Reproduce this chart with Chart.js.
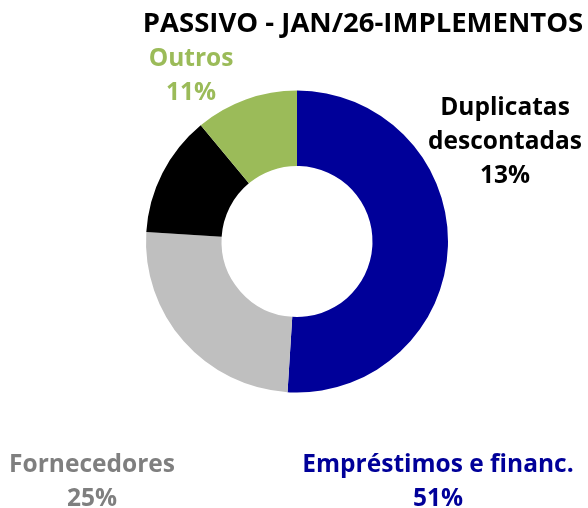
<!DOCTYPE html>
<html>
<head>
<meta charset="utf-8">
<script src="https://cdn.jsdelivr.net/npm/chart.js@4"></script>
<style>
html,body{margin:0;padding:0;background:#fff;}
#wrap{width:588px;height:508px;}
</style>
</head>
<body>
<div id="wrap"><canvas id="c" width="588" height="508"></canvas></div>
<script>
const chartTitle = "PASSIVO - JAN/26-IMPLEMENTOS";
const categories = ["Empréstimos e financ.", "Fornecedores", "Duplicatas descontadas", "Outros"];
const labelLines = [["Empréstimos e financ."], ["Fornecedores"], ["Duplicatas", "descontadas"], ["Outros"]];
const values = [51, 25, 13, 11];
const sliceColors = ["#000099", "#BFBFBF", "#000000", "#9BBB59"];
const labelColors = ["#000099", "#7F7F7F", "#000000", "#9BBB59"];

// label anchor (x center, baseline of first line)
const labelAnchors = [
  {x: 438, y: 472},
  {x: 92, y: 472},
  {x: 505, y: 115},
  {x: 191, y: 66}
];
const LINE_H = 34;
const FONT_FAMILY = "'Open Sans', Lato, sans-serif";

const labelPlugin = {
  id: 'customLabels',
  afterDraw(chart) {
    const ctx = chart.ctx;
    const ds = chart.data.datasets[0];
    const total = ds.data.reduce((a, b) => a + b, 0);
    ctx.save();
    ctx.textAlign = 'center';
    ctx.textBaseline = 'alphabetic';
    // title
    ctx.fillStyle = '#000000';
    ctx.font = 'bold 27.5px ' + FONT_FAMILY;
    ctx.fillText(chartTitle, 363, 32);
    ctx.font = 'bold 24.5px ' + FONT_FAMILY;
    chart.data.labels.forEach((lab, i) => {
      const a = labelAnchors[i];
      const lines = labelLines[i].slice();
      const pct = Math.round(ds.data[i] / total * 100) + '%';
      lines.push(pct);
      ctx.fillStyle = labelColors[i];
      lines.forEach((t, j) => ctx.fillText(t, a.x, a.y + j * LINE_H));
    });
    ctx.restore();
  }
};

function build() {
  new Chart(document.getElementById('c'), {
    type: 'doughnut',
    data: {
      labels: categories,
      datasets: [{
        data: values,
        backgroundColor: sliceColors,
        borderWidth: 0,
        hoverOffset: 0
      }]
    },
    options: {
      responsive: false,
      devicePixelRatio: 1,
      animation: false,
      cutout: '50%',
      rotation: 0,
      layout: {padding: {top: 90, bottom: 115, left: 146, right: 140}},
      plugins: {
        legend: {display: false},
        title: {display: false},
        tooltip: {enabled: false}
      }
    },
    plugins: [labelPlugin]
  });
}
if (document.fonts && document.fonts.load) {
  Promise.all([
    document.fonts.load("bold 27px 'Open Sans'"),
    document.fonts.load("bold 24px 'Open Sans'")
  ]).then(build, build);
} else { build(); }
</script>
</body>
</html>
